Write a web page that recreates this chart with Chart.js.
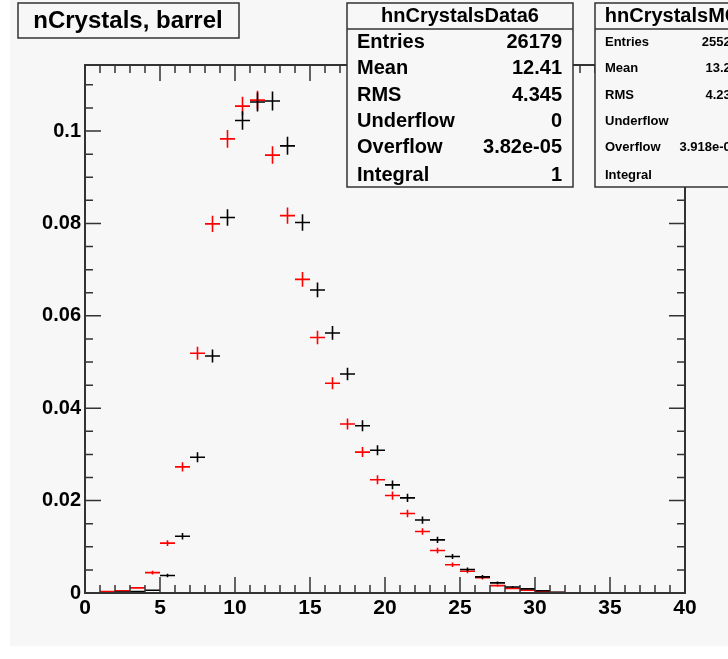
<!DOCTYPE html>
<html>
<head>
<meta charset="utf-8">
<script src="https://cdn.jsdelivr.net/npm/chart.js@4/dist/chart.umd.min.js"></script>
<style>
html, body { margin: 0; padding: 0; background: #fff; }
#wrap { width: 728px; height: 659px; }
</style>
</head>
<body>
<div id="wrap"><canvas id="nCrystals" width="728" height="659"></canvas></div>
<script>
// bin centres, 1 crystal wide, 0..40
let binCenters = [0.5, 1.5, 2.5, 3.5, 4.5, 5.5, 6.5, 7.5, 8.5, 9.5,
    10.5, 11.5, 12.5, 13.5, 14.5, 15.5, 16.5, 17.5, 18.5, 19.5,
    20.5, 21.5, 22.5, 23.5, 24.5, 25.5, 26.5, 27.5, 28.5, 29.5,
    30.5, 31.5, 32.5, 33.5, 34.5, 35.5, 36.5, 37.5, 38.5, 39.5];

// normalised contents (integral = 1)
let dataValues = [0, 0.0003, 0.0005, 0.0011, 0.0044, 0.0108, 0.0273, 0.0519, 0.0799, 0.0983,
    0.1054, 0.1067, 0.0948, 0.0817, 0.0679, 0.0553, 0.0454, 0.0366, 0.0305, 0.0245,
    0.0211, 0.0172, 0.0133, 0.0092, 0.0061, 0.0047, 0.0033, 0.0016, 0.0010, 0.0006,
    0.0003, 0.0001, 0.00005, 0, 0.00005, 0, 0, 0, 0, 0];
let mcValues = [0, 0, 0.0002, 0.0003, 0.0006, 0.0038, 0.0123, 0.0294, 0.0513, 0.0813,
    0.1023, 0.1063, 0.1065, 0.0968, 0.0802, 0.0656, 0.0563, 0.0474, 0.0362, 0.0309,
    0.0234, 0.0206, 0.0158, 0.0115, 0.0079, 0.0051, 0.0035, 0.0022, 0.0013, 0.0009,
    0.0005, 0.00015, 0.00005, 0, 0, 0, 0, 0, 0, 0];

let dataEntries = 26179;
let mcEntries = 25523;

let xTickValues = [0, 5, 10, 15, 20, 25, 30, 35, 40];
let xTickLabels = ['0', '5', '10', '15', '20', '25', '30', '35', '40'];
let yTickValues = [0, 0.02, 0.04, 0.06, 0.08, 0.1];
let yTickLabels = ['0', '0.02', '0.04', '0.06', '0.08', '0.1'];

let statLabels = ['Entries', 'Mean', 'RMS', 'Underflow', 'Overflow', 'Integral'];
let dataStats = ['26179', '12.41', '4.345', '0', '3.82e-05', '1'];
let mcStats = ['25523', '13.27', '4.232', '0', '3.918e-05', '1'];

let fontFamily = "'Liberation Sans', Arial, Helvetica, sans-serif";
let frameColor = '#333';
let bgColor = '#f7f7f7';

function findLabel(values, labels, v) {
    for (let i = 0; i < values.length; i++) {
        if (Math.abs(values[i] - v) < 1e-9) return labels[i];
    }
    return '';
}

let background = {
    id: 'background',
    beforeDraw(chart) {
        let ctx = chart.ctx;
        ctx.save();
        ctx.fillStyle = '#fff';
        ctx.fillRect(0, 0, chart.width, chart.height);
        ctx.fillStyle = bgColor;
        ctx.fillRect(10, 0, chart.width - 10, 646);
        ctx.restore();
    }
};

// ROOT style "E" markers: bin-wide horizontal bar plus statistical error
let errorBars = {
    id: 'errorBars',
    afterDatasetsDraw(chart) {
        let ctx = chart.ctx;
        let xs = chart.scales.x, ys = chart.scales.y;
        let area = chart.chartArea;
        ctx.save();
        ctx.beginPath();
        ctx.rect(area.left, area.top, area.right - area.left, area.bottom - area.top);
        ctx.clip();
        chart.data.datasets.forEach(ds => {
            ctx.strokeStyle = ds.borderColor;
            ctx.lineWidth = 1.6;
            ds.data.forEach(p => {
                let err = Math.sqrt(p.y / ds.entries);
                let py = ys.getPixelForValue(p.y);
                ctx.beginPath();
                ctx.moveTo(xs.getPixelForValue(p.x - 0.5), py);
                ctx.lineTo(xs.getPixelForValue(p.x + 0.5), py);
                ctx.moveTo(xs.getPixelForValue(p.x), ys.getPixelForValue(p.y - err));
                ctx.lineTo(xs.getPixelForValue(p.x), ys.getPixelForValue(p.y + err));
                ctx.stroke();
            });
        });
        ctx.restore();
    }
};

// frame with inward ticks on all four sides
let frame = {
    id: 'frame',
    afterDatasetsDraw(chart) {
        let ctx = chart.ctx;
        let xs = chart.scales.x, ys = chart.scales.y;
        let a = chart.chartArea;
        ctx.save();
        ctx.strokeStyle = frameColor;
        ctx.lineWidth = 1.5;
        ctx.beginPath();
        xs.ticks.forEach(t => {
            let px = xs.getPixelForValue(t.value);
            let len = xTickValues.includes(t.value) ? 16 : 8;
            ctx.moveTo(px, a.bottom);
            ctx.lineTo(px, a.bottom - len);
            ctx.moveTo(px, a.top);
            ctx.lineTo(px, a.top + len);
        });
        ys.ticks.forEach(t => {
            let k = t.value / 0.005;
            if (Math.abs(k - Math.round(k)) > 1e-6) return;
            let py = ys.getPixelForValue(t.value);
            let len = findLabel(yTickValues, yTickLabels, t.value) !== '' ? 16 : 8;
            ctx.moveTo(a.left, py);
            ctx.lineTo(a.left + len, py);
            ctx.moveTo(a.right, py);
            ctx.lineTo(a.right - len, py);
        });
        ctx.stroke();
        ctx.lineWidth = 2;
        ctx.strokeRect(a.left, a.top, a.right - a.left, a.bottom - a.top);
        ctx.restore();
    }
};

function drawStatBox(ctx, x, w, title, values, labelSize, rightPad) {
    ctx.fillStyle = bgColor;
    ctx.fillRect(x, 3, w, 184);
    ctx.strokeStyle = frameColor;
    ctx.lineWidth = 1.5;
    ctx.strokeRect(x, 3, w, 184);
    ctx.beginPath();
    ctx.moveTo(x, 29);
    ctx.lineTo(x + w, 29);
    ctx.stroke();
    ctx.fillStyle = '#000';
    ctx.textBaseline = 'middle';
    ctx.textAlign = 'center';
    ctx.font = 'bold 20px ' + fontFamily;
    ctx.fillText(title, x + w / 2, 16);
    let rows = [42, 68, 95, 121, 147, 175];
    ctx.font = 'bold ' + labelSize + 'px ' + fontFamily;
    statLabels.forEach((lab, i) => {
        ctx.textAlign = 'left';
        ctx.fillText(lab, x + 10, rows[i]);
        ctx.textAlign = 'right';
        ctx.fillText(values[i], x + w - rightPad, rows[i]);
    });
}

let boxes = {
    id: 'boxes',
    afterDraw(chart) {
        let ctx = chart.ctx;
        ctx.save();
        // title
        ctx.fillStyle = bgColor;
        ctx.fillRect(18, 3, 221, 35);
        ctx.strokeStyle = frameColor;
        ctx.lineWidth = 1.5;
        ctx.strokeRect(18, 3, 221, 35);
        ctx.fillStyle = '#000';
        ctx.font = 'bold 24px ' + fontFamily;
        ctx.textAlign = 'center';
        ctx.textBaseline = 'middle';
        ctx.fillText('nCrystals, barrel', 128, 21);
        drawStatBox(ctx, 347, 226, 'hnCrystalsData6', dataStats, 20, 11);
        drawStatBox(ctx, 595, 154, 'hnCrystalsMC', mcStats, 13, 11);
        ctx.restore();
    }
};

let points = (values) => binCenters.map((c, i) => ({x: c, y: values[i]}));

let config = {
    type : 'scatter',
    data : {
        datasets : [{
            label : 'hnCrystalsData6',
            data : points(dataValues),
            entries : dataEntries,
            borderColor : '#ff0000',
            pointRadius : 0,
            showLine : false
        }, {
            label : 'hnCrystalsMC',
            data : points(mcValues),
            entries : mcEntries,
            borderColor : '#000000',
            pointRadius : 0,
            showLine : false
        }]
    },
    options : {
        responsive : false,
        animation : false,
        devicePixelRatio : 1,
        layout : {padding : {left : 0, top : 65, right : 43, bottom : 0}},
        plugins : {
            legend : {display : false},
            tooltip : {enabled : false}
        },
        scales : {
            x : {
                type : 'linear',
                min : 0,
                max : 40,
                grid : {display : false, drawTicks : false},
                border : {display : false},
                ticks : {
                    stepSize : 1,
                    autoSkip : false,
                    maxRotation : 0,
                    padding : 3,
                    color : '#000',
                    font : {family : fontFamily, size : 21, weight : 'bold'},
                    callback : v => findLabel(xTickValues, xTickLabels, v)
                },
                afterFit : s => { s.height = 66; }
            },
            y : {
                type : 'linear',
                min : 0,
                max : 0.1143,
                grid : {display : false, drawTicks : false},
                border : {display : false},
                ticks : {
                    stepSize : 0.005,
                    includeBounds : false,
                    autoSkip : false,
                    padding : 4,
                    color : '#000',
                    font : {family : fontFamily, size : 20, weight : 'bold'},
                    callback : v => findLabel(yTickValues, yTickLabels, v)
                },
                afterFit : s => { s.width = 85; }
            }
        }
    },
    plugins : [background, errorBars, frame, boxes]
};

let chart = new Chart(document.getElementById('nCrystals'), config);
</script>
</body>
</html>
